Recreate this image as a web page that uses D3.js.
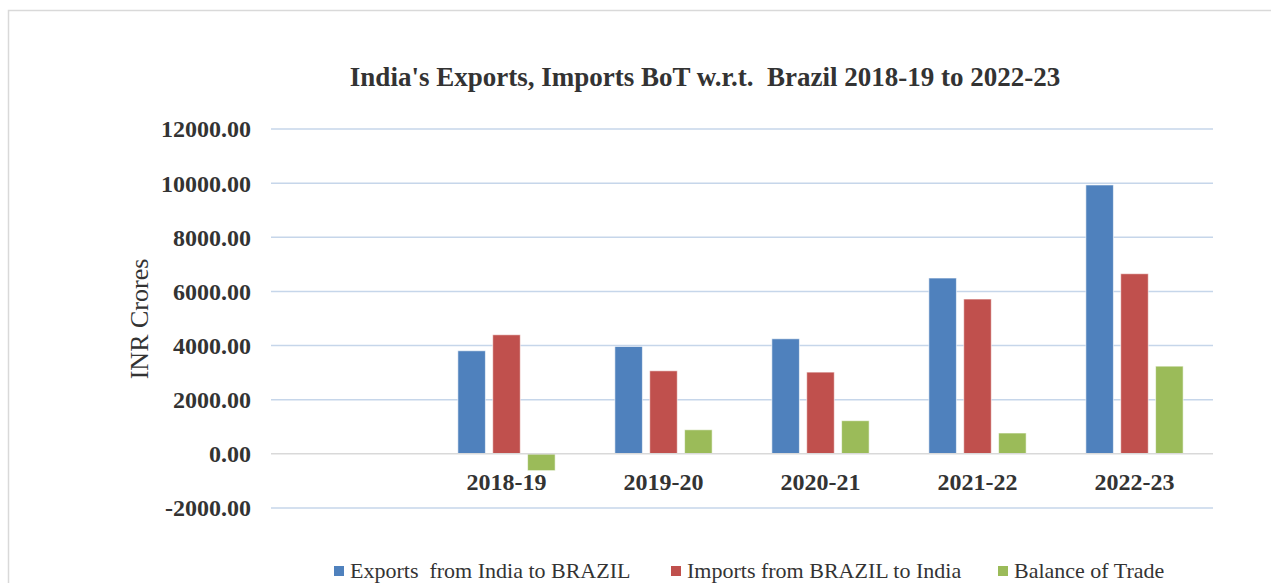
<!DOCTYPE html>
<html>
<head>
<meta charset="utf-8">
<script src="https://cdn.jsdelivr.net/npm/d3@7"></script>
<style>
  body { margin: 0; background: #fff; }
  svg { display: block; font-family: "Liberation Serif", "Times New Roman", serif; }
</style>
</head>
<body>
<svg id="chart"></svg>
<script>
// chart data
const categories = ["", "2018-19", "2019-20", "2020-21", "2021-22", "2022-23"];
const exportsToBrazil = [null, 3808, 3967, 4251, 6495, 9933];
const importsFromBrazil = [null, 4399, 3068, 3020, 5719, 6654];
const balanceOfTrade = [null, -620, 890, 1225, 770, 3240];
const seriesNames = ["Exports  from India to BRAZIL", "Imports from BRAZIL to India", "Balance of Trade"];
const yTicks = [-2000, 0, 2000, 4000, 6000, 8000, 10000, 12000];

const colors = ["#4f81bd", "#c0504d", "#9bbb59"];
const seriesValues = [exportsToBrazil, importsFromBrazil, balanceOfTrade];

const W = 1271, H = 583;
const svg = d3.select("#chart").attr("width", W).attr("height", H);

// outer chart border
svg.append("rect")
  .attr("x", 8.5).attr("y", 10.5)
  .attr("width", W).attr("height", H)
  .attr("fill", "#fff")
  .attr("stroke", "#d9d9d9")
  .attr("stroke-width", 1.5);

const plot = { left: 271, right: 1213, top: 129, bottom: 508 };

const x = d3.scaleBand()
  .domain(categories)
  .range([plot.left, plot.right])
  .padding(0);

const groupWidth = 97.3;
const x1 = d3.scaleBand()
  .domain(d3.range(seriesNames.length))
  .range([-groupWidth / 2, groupWidth / 2])
  .paddingInner(0.21)
  .paddingOuter(0);

const y = d3.scaleLinear()
  .domain([-2000, 12000])
  .range([plot.bottom, plot.top]);

// gridlines
svg.append("g")
  .selectAll("line")
  .data(yTicks.filter(t => t !== 0))
  .join("line")
  .attr("x1", plot.left).attr("x2", plot.right)
  .attr("y1", d => y(d)).attr("y2", d => y(d))
  .attr("stroke", "#c6d6ea")
  .attr("stroke-width", 1.5);

// y axis labels
const yAxis = svg.append("g")
  .attr("transform", `translate(${plot.left - 20},0)`)
  .call(d3.axisLeft(y).tickValues(yTicks).tickFormat(d => d.toFixed(2)).tickSize(0).tickPadding(0));
yAxis.select(".domain").remove();
yAxis.selectAll("text")
  .attr("font-family", "Liberation Serif")
  .attr("font-size", "24px")
  .attr("font-weight", "bold")
  .attr("fill", "#333")
  .attr("dy", "0.33em");

// bars
const groups = svg.append("g")
  .selectAll("g")
  .data(categories.map((c, i) => ({ cat: c, i })))
  .join("g")
  .attr("transform", d => `translate(${x(d.cat) + x.bandwidth() / 2},0)`);

groups.selectAll("rect")
  .data(d => seriesValues.map((vals, s) => ({ s, v: vals[d.i] })).filter(e => e.v !== null))
  .join("rect")
  .attr("x", d => x1(d.s))
  .attr("width", x1.bandwidth())
  .attr("y", d => y(Math.max(0, d.v)))
  .attr("height", d => Math.abs(y(d.v) - y(0)))
  .attr("fill", d => colors[d.s])
  .attr("stroke", "#fff")
  .attr("stroke-opacity", 0.6)
  .attr("stroke-width", 1);

// zero line
svg.append("line")
  .attr("x1", plot.left).attr("x2", plot.right)
  .attr("y1", y(0)).attr("y2", y(0))
  .attr("stroke", "#d9d9d9")
  .attr("stroke-width", 1.5);

// category labels
svg.append("g")
  .selectAll("text")
  .data(categories.filter(c => c !== ""))
  .join("text")
  .attr("x", d => x(d) + x.bandwidth() / 2)
  .attr("y", 490)
  .attr("text-anchor", "middle")
  .attr("font-size", "24px")
  .attr("font-weight", "bold")
  .attr("fill", "#333")
  .text(d => d);

// title
svg.append("text")
  .attr("x", 705)
  .attr("y", 86)
  .attr("text-anchor", "middle")
  .attr("font-size", "27px")
  .attr("font-weight", "bold")
  .attr("fill", "#333")
  .style("white-space", "pre")
  .text("India's Exports, Imports BoT w.r.t.  Brazil 2018-19 to 2022-23");

// y axis title
svg.append("text")
  .attr("transform", "translate(148,319) rotate(-90)")
  .attr("text-anchor", "middle")
  .attr("font-size", "26px")
  .attr("fill", "#333")
  .text("INR Crores");

// legend
const legendX = [334, 671, 998];
const legend = svg.append("g")
  .selectAll("g")
  .data(seriesNames)
  .join("g")
  .attr("transform", (d, i) => `translate(${legendX[i]},566)`);
legend.append("rect")
  .attr("width", 10).attr("height", 10)
  .attr("fill", (d, i) => colors[i]);
legend.append("text")
  .attr("x", 16).attr("y", 12)
  .attr("font-size", "22px")
  .attr("fill", "#333")
  .style("white-space", "pre")
  .text(d => d);
</script>
</body>
</html>
